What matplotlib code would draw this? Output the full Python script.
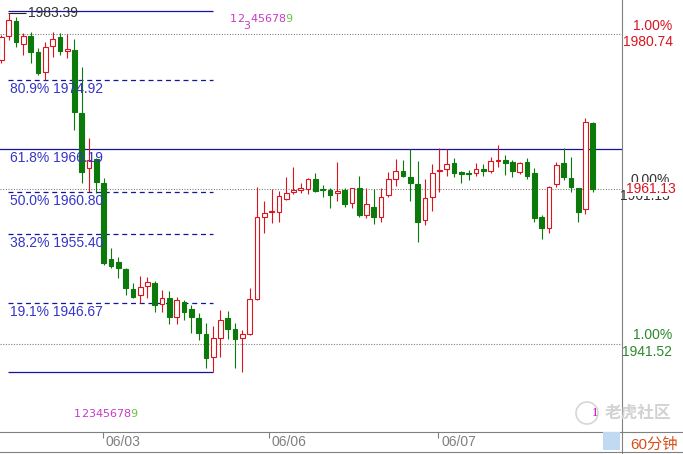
import numpy as np
import matplotlib
matplotlib.use('Agg')
import matplotlib.pyplot as plt
from matplotlib.lines import Line2D
from matplotlib.patches import Rectangle, Ellipse

plt.rcParams['font.family'] = ['Liberation Sans', 'Noto Sans CJK SC', 'DejaVu Sans']

# 60-minute candles
opens = [1977.45, 1980.49, 1982.38, 1979.47, 1980.49, 1978.46, 1975.93, 1979.22, 1980.36, 1978.59,
         1978.71, 1970.74, 1963.79, 1964.92, 1961.89, 1952.27, 1951.89, 1951.01, 1948.48, 1947.72,
         1948.86, 1949.24, 1946.58, 1947.34, 1944.93, 1946.83, 1945.95, 1944.81, 1942.78, 1939.87,
         1942.28, 1944.81, 1943.41, 1942.28, 1942.78, 1947.21, 1957.59, 1958.22, 1958.22, 1959.86,
         1960.75, 1961.00, 1961.13, 1962.39, 1961.13, 1961.00, 1960.62, 1961.00, 1959.36, 1961.25,
         1957.84, 1958.85, 1957.59, 1960.37, 1962.39, 1963.41, 1962.65, 1961.76, 1957.21, 1960.12,
         1963.41, 1963.66, 1964.42, 1963.28, 1963.09, 1963.15, 1963.66, 1963.41, 1964.67, 1964.80,
         1964.54, 1963.28, 1964.54, 1963.15, 1957.59, 1956.19, 1961.76, 1964.42, 1962.52, 1961.25,
         1958.60, 1969.48]
highs = [1980.61, 1983.39, 1982.89, 1980.87, 1981.00, 1978.97, 1979.73, 1981.00, 1980.87, 1980.74,
         1980.11, 1976.56, 1967.58, 1965.05, 1962.52, 1953.66, 1952.52, 1951.13, 1949.24, 1950.12,
         1949.99, 1949.49, 1948.35, 1948.22, 1947.46, 1947.08, 1946.45, 1945.44, 1944.17, 1943.79,
         1945.82, 1945.69, 1944.17, 1943.29, 1948.60, 1961.38, 1959.61, 1961.13, 1960.87, 1962.65,
         1963.91, 1961.89, 1962.52, 1963.15, 1961.63, 1961.25, 1964.54, 1961.25, 1961.30, 1962.77,
         1961.25, 1961.13, 1961.25, 1963.28, 1964.92, 1964.80, 1966.19, 1964.67, 1962.39, 1964.29,
         1966.31, 1966.19, 1965.05, 1963.41, 1963.53, 1964.42, 1964.29, 1965.18, 1966.69, 1965.43,
         1964.80, 1964.54, 1965.05, 1963.79, 1957.84, 1961.51, 1964.54, 1966.31, 1965.18, 1961.25,
         1970.11, 1969.60]
lows = [1977.07, 1979.98, 1979.09, 1978.08, 1977.07, 1975.55, 1974.92, 1977.83, 1978.08, 1977.70,
        1968.59, 1961.89, 1960.75, 1960.62, 1951.51, 1951.13, 1949.87, 1947.72, 1947.30, 1946.70,
        1947.34, 1945.57, 1945.57, 1944.05, 1944.05, 1944.55, 1942.91, 1942.02, 1938.48, 1937.94,
        1939.87, 1942.15, 1938.48, 1937.94, 1942.66, 1947.08, 1955.56, 1956.83, 1956.95, 1959.74,
        1960.49, 1960.62, 1960.49, 1960.75, 1960.12, 1958.72, 1959.61, 1958.85, 1958.72, 1957.59,
        1957.46, 1956.70, 1956.95, 1960.12, 1961.51, 1962.65, 1959.61, 1954.42, 1956.57, 1958.34,
        1960.75, 1962.77, 1962.65, 1961.89, 1962.27, 1962.77, 1962.77, 1963.15, 1963.91, 1962.90,
        1962.65, 1963.03, 1962.39, 1956.95, 1954.80, 1955.56, 1961.38, 1962.27, 1960.75, 1956.95,
        1957.97, 1960.75]
closes = [1980.36, 1982.51, 1979.73, 1980.49, 1978.46, 1975.80, 1979.09, 1980.11, 1978.59, 1978.84,
          1970.87, 1963.28, 1964.80, 1962.01, 1951.77, 1951.39, 1951.13, 1948.60, 1947.46, 1948.73,
          1949.36, 1946.45, 1947.34, 1944.93, 1947.08, 1945.57, 1944.93, 1942.91, 1939.75, 1942.28,
          1944.55, 1943.41, 1942.15, 1942.78, 1947.21, 1957.59, 1958.09, 1958.34, 1960.24, 1960.62,
          1961.00, 1961.25, 1962.39, 1960.87, 1961.00, 1960.37, 1960.87, 1959.23, 1961.25, 1957.84,
          1959.23, 1957.59, 1960.12, 1962.39, 1963.41, 1962.77, 1961.89, 1956.95, 1959.99, 1963.15,
          1963.53, 1964.29, 1963.15, 1963.03, 1963.03, 1963.66, 1963.41, 1964.67, 1964.80, 1964.42,
          1963.41, 1964.42, 1962.77, 1957.46, 1956.19, 1961.38, 1964.17, 1962.65, 1961.38, 1958.22,
          1969.60, 1961.13]

date_ticks = [13.9, 36.6, 59.8]
date_labels = ['06/03', '06/06', '06/07']

fib_high = 1983.65
fib_low = 1937.94
fib_levels = [1974.92, 1966.19, 1960.80, 1955.40, 1946.67]
fib_labels = ['80.9% 1974.92', '61.8% 1966.19', '50.0% 1960.80', '38.2% 1955.40', '19.1% 1946.67']
high_mark = 1983.39

ref_lines = [1980.74, 1961.13, 1941.52]

RED = '#dc1420'
GREEN = '#0b7a0b'
NAVY = '#1414a0'
FIBTXT = '#3535c8'
GREY = '#808080'

W, H = 683, 454
fig = plt.figure(figsize=(W / 100, H / 100), dpi=100)
ax = fig.add_axes([0, 22 / H, 622 / W, 432 / H])
ax.set_xlim(-0.2, 85.0)
ax.set_ylim(1930.38, 1985.04)

o = np.array(opens); c = np.array(closes)
hi = np.array(highs); lo = np.array(lows)
x = np.arange(len(o))
up = c >= o
col = np.where(up, RED, GREEN)

ax.vlines(x, lo, hi, colors=col, lw=0.8, zorder=3)
ax.bar(x, np.abs(c - o), bottom=np.minimum(o, c), width=0.64,
       facecolor=np.where(up, 'white', GREEN), edgecolor=col, linewidth=0.8, zorder=4)

# grey dotted reference lines
for y in ref_lines:
    ax.axhline(y, color=GREY, ls=(0, (1, 1.4)), lw=0.8, zorder=1)

# fibonacci retracement
ax.hlines([fib_high, fib_low], 0.9, 29, colors=NAVY, lw=0.9, zorder=2)
ax.hlines(high_mark, 0.9, 3.35, colors='#222222', lw=0.8, zorder=2)
ax.text(3.6, high_mark, '1983.39', color='#333333', fontsize=10, va='center', ha='left')
for lev, lab in zip(fib_levels, fib_labels):
    if lab.startswith('61.8'):
        ax.axhline(lev, color=NAVY, lw=0.9, zorder=2)
    else:
        ax.hlines(lev, 0.9, 29, colors=NAVY, lw=0.9, linestyles=(0, (4, 3)), zorder=2)
    ax.annotate(lab, xy=(0.9, lev), xytext=(2, -9), textcoords='offset pixels',
                color=FIBTXT, fontsize=10, va='center', ha='left', zorder=5)

# axes frame
for s in ['left', 'top']:
    ax.spines[s].set_visible(False)
for s in ['right', 'bottom']:
    ax.spines[s].set_color(GREY)
    ax.spines[s].set_linewidth(0.8)
ax.set_yticks([])
ax.set_xticks(date_ticks)
ax.set_xticklabels([])
ax.tick_params(axis='x', length=4, width=0.8, color=GREY, direction='out')
for t, lab in zip(date_ticks, date_labels):
    ax.annotate(lab, xy=(t, 0), xycoords=ax.get_xaxis_transform(), xytext=(3, -10),
                textcoords='offset pixels', color=GREY, fontsize=10, va='center', ha='left')

# right price panel
yt = ax.get_yaxis_transform()
rx = 672 / 622
ax.annotate('1.00%', xy=(rx, ref_lines[0]), xycoords=yt, xytext=(0, 8), textcoords='offset pixels',
            color=RED, fontsize=10, ha='right', va='center', annotation_clip=False)
ax.annotate('1980.74', xy=(rx, ref_lines[0]), xycoords=yt, xytext=(1, -8), textcoords='offset pixels',
            color=RED, fontsize=10, ha='right', va='center', annotation_clip=False)
ax.annotate('0.00%', xy=(rx, ref_lines[1]), xycoords=yt, xytext=(-2, 9), textcoords='offset pixels',
            color='#333333', fontsize=10, ha='right', va='center', annotation_clip=False)
ax.annotate('1961.13', xy=(rx, ref_lines[1]), xycoords=yt, xytext=(-2, -7), textcoords='offset pixels',
            color='#333333', fontsize=10, ha='right', va='center', annotation_clip=False)
ax.annotate('1961.13', xy=(rx, ref_lines[1]), xycoords=yt, xytext=(4, 0), textcoords='offset pixels',
            color=RED, fontsize=10, ha='right', va='center', annotation_clip=False,
            bbox=dict(facecolor='white', edgecolor='none', pad=0.3))
ax.annotate('1.00%', xy=(rx, ref_lines[2]), xycoords=yt, xytext=(0, 9), textcoords='offset pixels',
            color='#2a8a2a', fontsize=10, ha='right', va='center', annotation_clip=False)
ax.annotate('1941.52', xy=(rx, ref_lines[2]), xycoords=yt, xytext=(0, -8), textcoords='offset pixels',
            color='#2a8a2a', fontsize=10, ha='right', va='center', annotation_clip=False)

# figure-level decorations
def fx(px):
    return px / W

def fy(py):
    return 1 - py / H

fig.add_artist(Line2D([fx(622), 1], [fy(432), fy(432)], color=GREY, lw=0.8))
fig.add_artist(Line2D([0, 1], [fy(452), fy(452)], color=GREY, lw=0.8))
fig.add_artist(Line2D([fx(622), fx(622)], [0, fy(432)], color=GREY, lw=0.8))
fig.add_artist(Rectangle((fx(603), fy(450)), 17 / W, 18 / H, facecolor='#c2d9f2', edgecolor='none'))
fig.text(fx(654), fy(445), '60分钟', color='#d8501e', fontsize=11, ha='center', va='center')

# watermark
fig.add_artist(Ellipse((fx(587), fy(413)), 22 / W, 22 / H, facecolor='none', edgecolor='#d6d6d6', lw=1.2))
fig.text(fx(638), fy(413), '老虎社区', color='#d2d2d2', fontsize=12, ha='center', va='center',
         family=['Noto Sans CJK SC'], weight='bold')
fig.text(fx(595), fy(413), '1', color='#c000c0', fontsize=9, ha='center', va='center',
         family=['Liberation Serif'])

# wave counters, one digit at a time
mag = '#c838c8'
grn = '#66c840'
top_digits = [('1', 230, 19), ('2', 237, 19), ('3', 243, 26), ('4', 250, 19), ('5', 257, 19),
              ('6', 264, 19), ('7', 271, 19), ('8', 278, 19), ('9', 285, 19)]
for d, px, py in top_digits:
    fig.text(fx(px), fy(py), d, color=grn if d == '9' else mag, fontsize=8,
             family=['DejaVu Sans'], va='center')
for k, d in enumerate('123456789'):
    fig.text(fx(74 + 7 * k), fy(414), d, color=grn if d == '9' else mag, fontsize=8,
             family=['DejaVu Sans'], va='center')

fig.savefig('out.png', dpi=100, facecolor='white')
